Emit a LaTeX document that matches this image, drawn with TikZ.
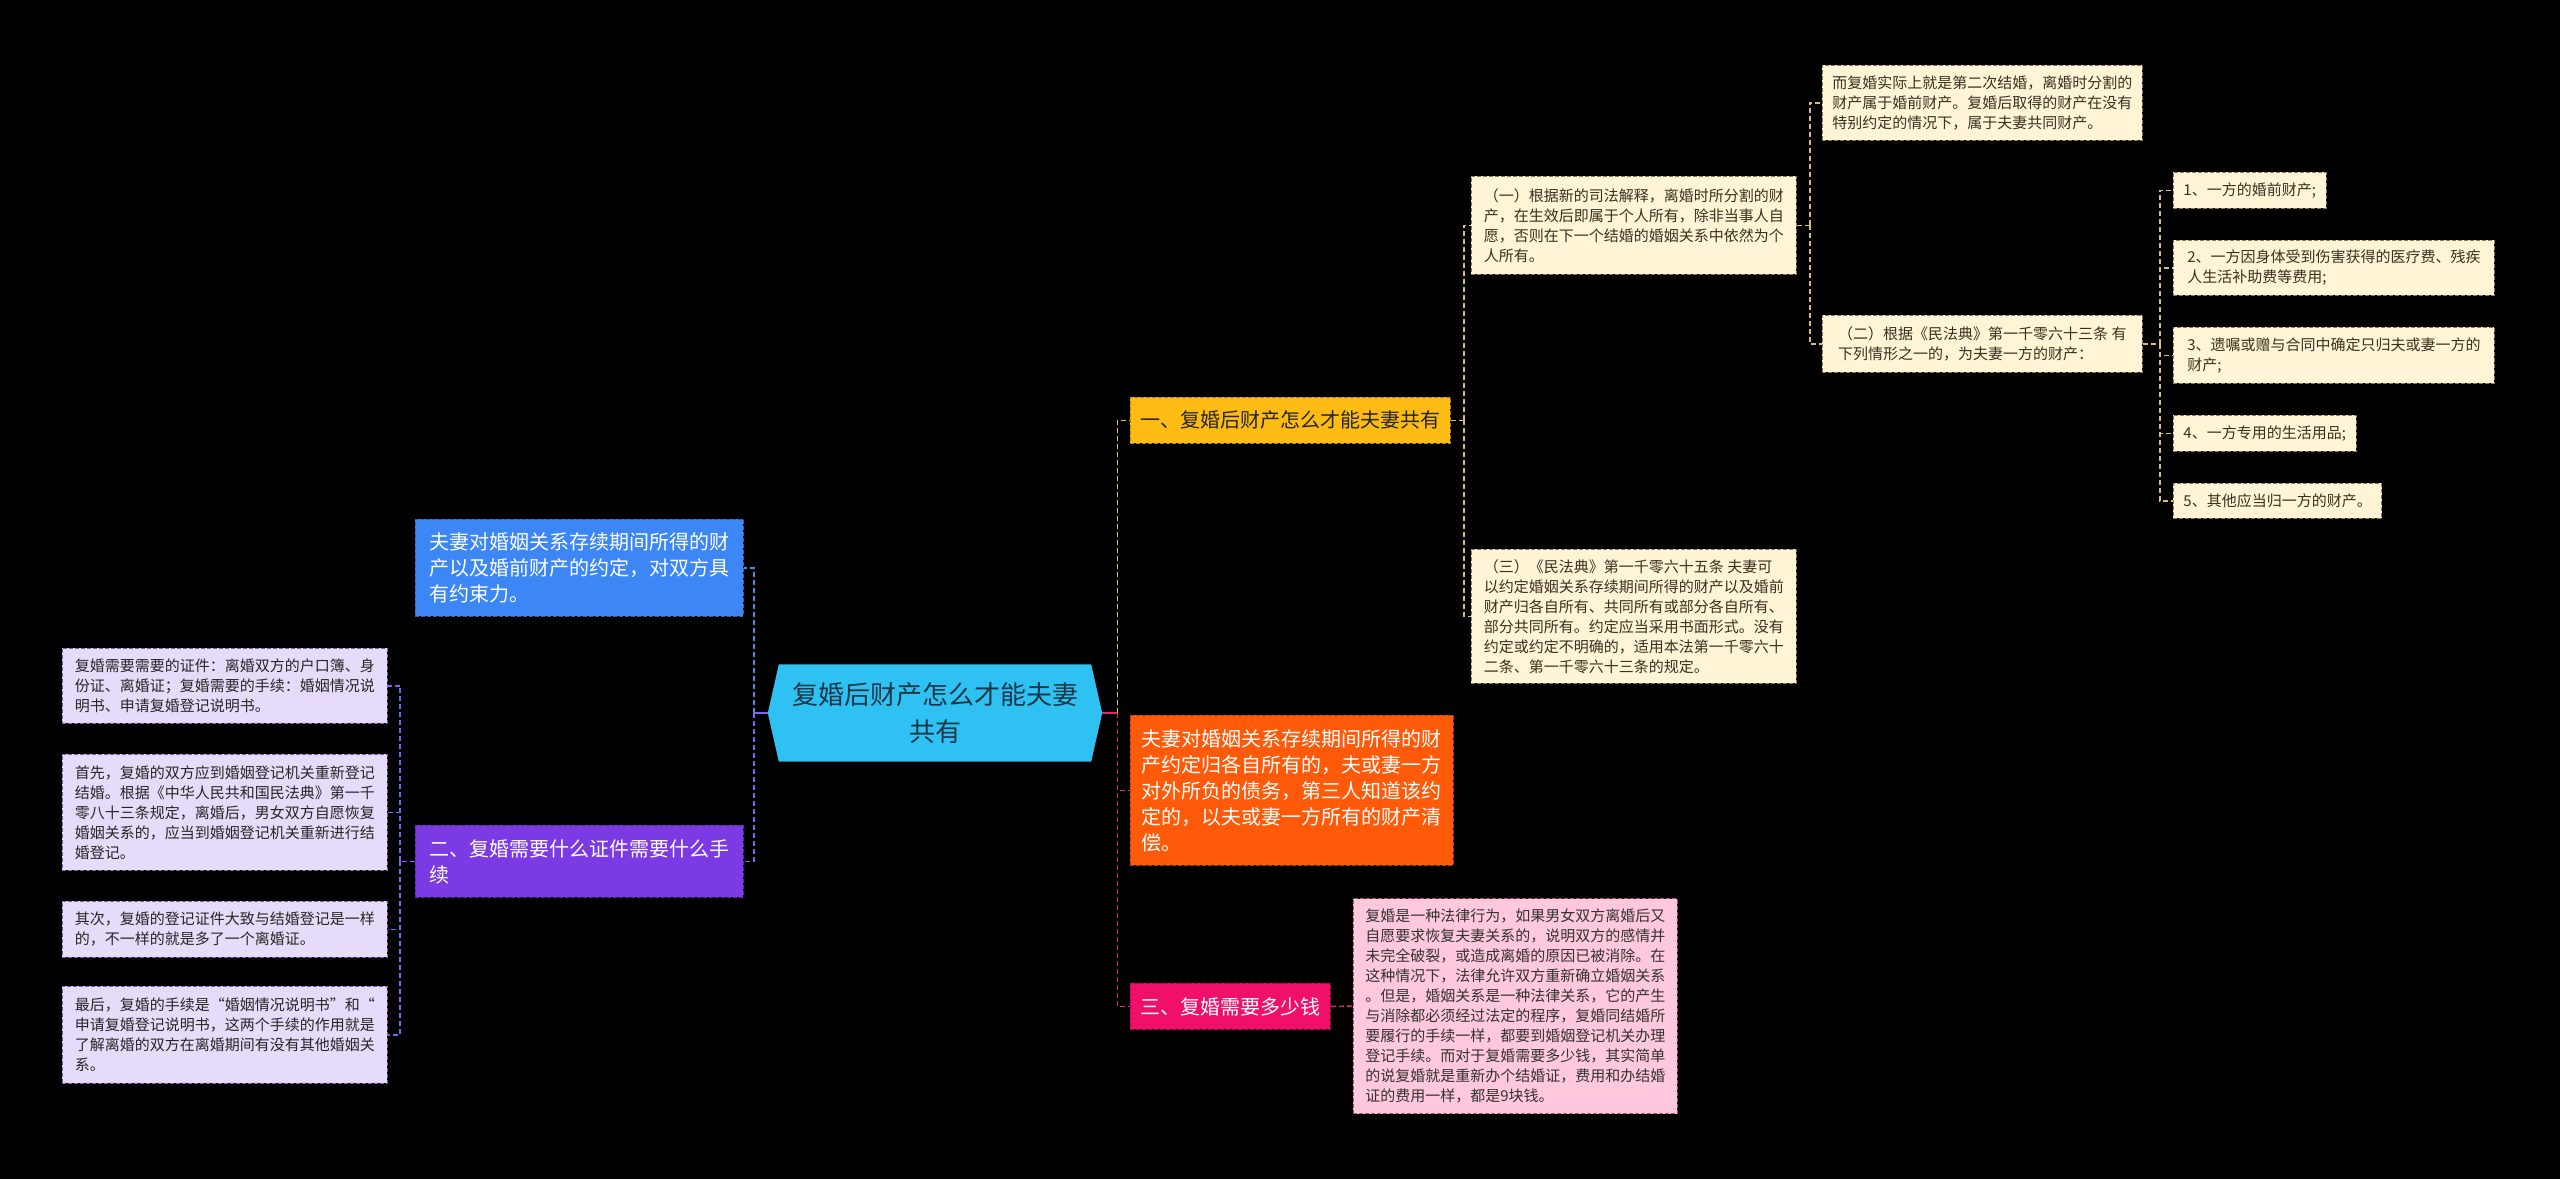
\documentclass[tikz,border=0pt]{standalone}
\usepackage{fontspec}
\setmainfont{Noto Sans CJK SC}
\usetikzlibrary{backgrounds,calc}
\definecolor{bgc}{HTML}{000000}
\definecolor{rootfill}{HTML}{2EC1F1}
\definecolor{roottext}{HTML}{17384A}
\definecolor{bluefill}{HTML}{3C87F5}
\definecolor{purplefill}{HTML}{7B3AE4}
\definecolor{yellowfill}{HTML}{FDBB14}
\definecolor{orangefill}{HTML}{FF5A0A}
\definecolor{pinkfill}{HTML}{F0106A}
\definecolor{lavfill}{HTML}{E6DCFA}
\definecolor{lavline}{HTML}{7A5BB8}
\definecolor{creamfill}{HTML}{FFF4D5}
\definecolor{creamline}{HTML}{8A7A55}
\definecolor{creamtext}{HTML}{3B3020}
\definecolor{pleaffill}{HTML}{FFC8DD}
\definecolor{pleafline}{HTML}{B0507A}
\definecolor{cBlue}{HTML}{4A8FE8}
\definecolor{cPurple}{HTML}{8B5CF6}
\definecolor{cYellow}{HTML}{F5C518}
\definecolor{cPink}{HTML}{E0286E}
\definecolor{cKhaki}{HTML}{D8BE78}
\tikzset{
  box/.style={anchor=north west, align=left, inner xsep=10bp, inner ysep=4bp,
    dash pattern=on 4bp off 2bp, line width=0.8bp},
  mainbox/.style={box, font=\fontsize{20bp}{26bp}\selectfont},
  leafbox/.style={box, font=\fontsize{15bp}{20bp}\selectfont},
  lav/.style={leafbox, fill=lavfill, draw=lavline, text=black!85},
  cream/.style={leafbox, fill=creamfill, draw=creamline, text=creamtext},
  pleaf/.style={leafbox, fill=pleaffill, draw=pleafline, text=black!80},
  link/.style={line width=1.4bp, dash pattern=on 5bp off 3bp},
  stub/.style={line width=2bp},
}
\begin{document}
\begin{tikzpicture}[x=1bp,y=-1bp]
\begin{scope}[on background layer]
\fill[bgc] (0,0) rectangle (2560,1179);
\end{scope}
\useasboundingbox (0,0) rectangle (2560,1179);

% root
\node[font=\fontsize{26bp}{37bp}\selectfont, text=roottext, align=center,
  minimum width=334bp, minimum height=97bp, inner sep=0pt] (root) at (935,713)
  {复婚后财产怎么才能夫妻\\共有};
\begin{scope}[on background layer]
\fill[rootfill] (root.west) -- ([xshift=11bp]root.north west) -- ([xshift=-11bp]root.north east)
  -- (root.east) -- ([xshift=-11bp]root.south east) -- ([xshift=11bp]root.south west) -- cycle;
\end{scope}

% left main nodes
\node[mainbox, fill=bluefill, draw=cBlue!70!black, text=white, minimum width=328bp, minimum height=97bp] (blue) at (415,519)
  {夫妻对婚姻关系存续期间所得的财\\产以及婚前财产的约定，对双方具\\有约束力。};
\node[mainbox, fill=purplefill, draw=purplefill!70!black, text=white, minimum width=328bp, minimum height=72bp] (purple) at (415,825)
  {二、复婚需要什么证件需要什么手\\续};

% left leaves
\node[lav, minimum width=325bp, minimum height=75bp] (l1) at (62,648)
  {复婚需要需要的证件：离婚双方的户口簿、身\\份证、离婚证；复婚需要的手续：婚姻情况说\\明书、申请复婚登记说明书。};
\node[lav, minimum width=325bp, minimum height=116bp] (l2) at (62,754)
  {首先，复婚的双方应到婚姻登记机关重新登记\\结婚。根据《中华人民共和国民法典》第一千\\零八十三条规定，离婚后，男女双方自愿恢复\\婚姻关系的，应当到婚姻登记机关重新进行结\\婚登记。};
\node[lav, minimum width=325bp, minimum height=56bp] (l3) at (62,901)
  {其次，复婚的登记证件大致与结婚登记是一样\\的，不一样的就是多了一个离婚证。};
\node[lav, minimum width=325bp, minimum height=97bp] (l4) at (62,986)
  {最后，复婚的手续是“婚姻情况说明书”和“\\申请复婚登记说明书，这两个手续的作用就是\\了解离婚的双方在离婚期间有没有其他婚姻关\\系。};

% right main nodes
\node[mainbox, fill=yellowfill, draw=yellowfill!70!black, text=black!85, minimum width=315bp, minimum height=46bp] (yel) at (1130,397)
  {一、复婚后财产怎么才能夫妻共有};
\node[mainbox, fill=orangefill, draw=orangefill!70!black, text=white, minimum width=323bp, minimum height=150bp] (ora) at (1130,715)
  {夫妻对婚姻关系存续期间所得的财\\产约定归各自所有的，夫或妻一方\\对外所负的债务，第三人知道该约\\定的，以夫或妻一方所有的财产清\\偿。};
\node[mainbox, fill=pinkfill, draw=pinkfill!70!black, text=white, minimum width=196bp, minimum height=46bp] (pnk) at (1130,983)
  {三、复婚需要多少钱};

% yellow subtree
\node[cream, minimum width=325bp, minimum height=98bp] (y1) at (1471,176)
  {（一）根据新的司法解释，离婚时所分割的财\\产，在生效后即属于个人所有，除非当事人自\\愿，否则在下一个结婚的婚姻关系中依然为个\\人所有。};
\node[cream, minimum width=325bp, minimum height=134bp] (y3) at (1471,549)
  {（三）《民法典》第一千零六十五条 夫妻可\\以约定婚姻关系存续期间所得的财产以及婚前\\财产归各自所有、共同所有或部分各自所有、\\部分共同所有。约定应当采用书面形式。没有\\约定或约定不明确的，适用本法第一千零六十\\二条、第一千零六十三条的规定。};
\node[cream, minimum width=320bp, minimum height=75bp] (r1) at (1822,65)
  {而复婚实际上就是第二次结婚，离婚时分割的\\财产属于婚前财产。复婚后取得的财产在没有\\特别约定的情况下，属于夫妻共同财产。};
\node[cream, minimum width=320bp, minimum height=57bp] (r2) at (1822,315)
  {（二）根据《民法典》第一千零六十三条 有\\下列情形之一的，为夫妻一方的财产：};
\node[cream, minimum width=150bp, minimum height=36bp] (i1) at (2173,172) {1、一方的婚前财产;};
\node[cream, minimum width=321bp, minimum height=55bp] (i2) at (2173,240) {2、一方因身体受到伤害获得的医疗费、残疾\\人生活补助费等费用;};
\node[cream, minimum width=321bp, minimum height=56bp] (i3) at (2173,327) {3、遗嘱或赠与合同中确定只归夫或妻一方的\\财产;};
\node[cream, minimum width=181bp, minimum height=36bp] (i4) at (2173,415) {4、一方专用的生活用品;};
\node[cream, minimum width=208bp, minimum height=35bp] (i5) at (2173,483) {5、其他应当归一方的财产。};

% pink leaf
\node[pleaf, minimum width=324bp, minimum height=215bp, anchor=west] (pl) at (1353,1006)
  {复婚是一种法律行为，如果男女双方离婚后又\\自愿要求恢复夫妻关系的，说明双方的感情并\\未完全破裂，或造成离婚的原因已被消除。在\\这种情况下，法律允许双方重新确立婚姻关系\\。但是，婚姻关系是一种法律关系，它的产生\\与消除都必须经过法定的程序，复婚同结婚所\\要履行的手续一样，都要到婚姻登记机关办理\\登记手续。而对于复婚需要多少钱，其实简单\\的说复婚就是重新办个结婚证，费用和办结婚\\证的费用一样，都是9块钱。};

% junctions
\coordinate (lj) at ([xshift=-14bp]root.west);
\coordinate (rj) at ([xshift=15bp]root.east);
\coordinate (pj) at ([xshift=-15bp]purple.west);
\coordinate (yj) at ([xshift=13bp]yel.east);
\coordinate (y1j) at ([xshift=13bp]y1.east);
\coordinate (r2j) at ([xshift=17bp]r2.east);

% root connectors
\draw[stub, cPurple] (root.west) -- (lj);
\draw[stub, cPink] (root.east) -- (rj);
\draw[link, cBlue] (lj) |- (blue.east);
\draw[link, cPurple] (lj) |- (purple.east);
\draw[link, cYellow] (rj) |- (yel.west);
\draw[link, cPink] (rj) |- (ora.west);
\draw[link, cPink] (rj) |- (pnk.west);

% purple children
\draw[link, cPurple] (purple.west) -- (pj);
\foreach \n in {l1,l2,l3,l4} \draw[link, cPurple] (pj) |- (\n.east);

% yellow children
\draw[link, cKhaki] (yel.east) -- (yj);
\draw[link, cKhaki] (yj) |- (y1.west);
\draw[link, cKhaki] (yj) |- (y3.west);
\draw[link, cKhaki] (y1.east) -- (y1j);
\draw[link, cKhaki] (y1j) |- (r1.west);
\draw[link, cKhaki] (y1j) |- (r2.west);
\draw[link, cKhaki] (r2.east) -- (r2j);
\foreach \n in {i1,i2,i3,i4,i5} \draw[link, cKhaki] (r2j) |- (\n.west);

% pink child
\draw[link, cPink] (pnk.east) -- (pl.west);
\end{tikzpicture}
\end{document}
